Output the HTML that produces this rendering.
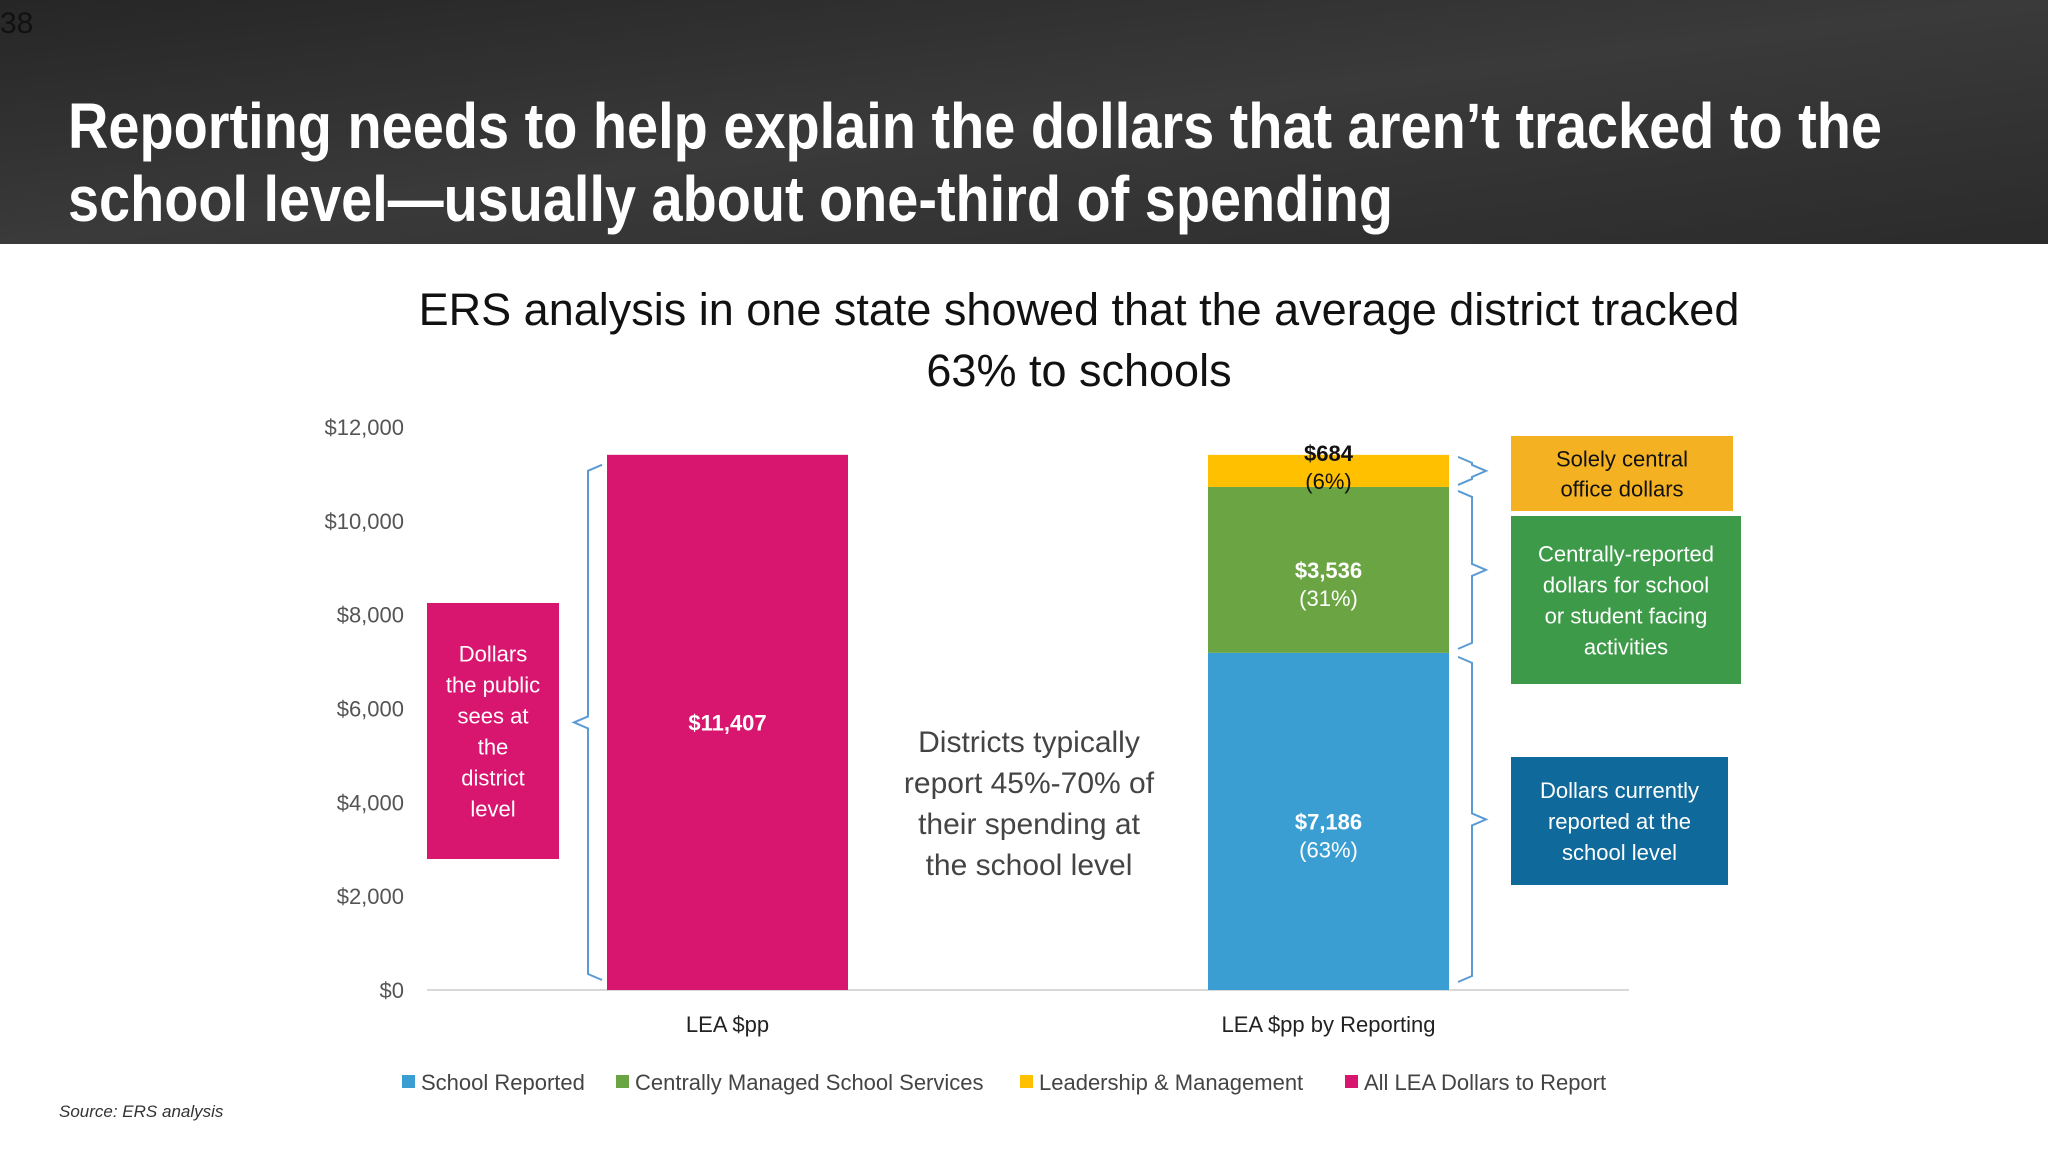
<!DOCTYPE html>
<html><head><meta charset="utf-8">
<style>
html,body{margin:0;padding:0;width:2048px;height:1152px;overflow:hidden;background:#fff;font-family:"Liberation Sans",sans-serif;}
svg{display:block}
</style></head>
<body>
<svg width="2048" height="1152" viewBox="0 0 2048 1152" xmlns="http://www.w3.org/2000/svg">
<defs>
<linearGradient id="hdr" x1="0" y1="0" x2="1" y2="1">
<stop offset="0" stop-color="#262626"/><stop offset="0.5" stop-color="#3a3a3a"/><stop offset="1" stop-color="#2b2b2b"/>
</linearGradient>
</defs>
<rect x="0" y="0" width="2048" height="244" fill="url(#hdr)"/>
<text x="0" y="33" font-size="30" fill="#111">38</text>
<g font-family="'Liberation Sans Narrow','Liberation Sans',sans-serif" font-weight="bold" font-size="64" fill="#fff">
<text x="68" y="148" textLength="1814" lengthAdjust="spacingAndGlyphs">Reporting needs to help explain the dollars that aren’t tracked to the</text>
<text x="68" y="221" textLength="1325" lengthAdjust="spacingAndGlyphs">school level—usually about one-third of spending</text>
</g>
<g font-size="45" fill="#111" text-anchor="middle">
<text x="1079" y="325">ERS analysis in one state showed that the average district tracked</text>
<text x="1079" y="386">63% to schools</text>
</g>
<g id="chart"></g>
<text x="59" y="1117" font-size="17" font-style="italic" fill="#333">Source: ERS analysis</text>
</svg>
<script>
const yTicks=[0,2000,4000,6000,8000,10000,12000];
const categories=["LEA $pp","LEA $pp by Reporting"];
const totalValues=[11407];
const schoolReported=[7186];
const centrallyManaged=[3536];
const leadership=[684];
const pctLabels=["(63%)","(31%)","(6%)"];
const seriesNames=["School Reported","Centrally Managed School Services","Leadership & Management","All LEA Dollars to Report"];
const colors=["#3B9ED2","#6BA543","#FFC000","#D8166F"];

const NS="http://www.w3.org/2000/svg";
const g=document.getElementById('chart');
const y0=990,yTop=427,yMax=12000;
function y(v){return y0-(v/yMax)*(y0-yTop);}
const barX=[607,1208],barW=241;
function mk(tag,attrs,parent){const e=document.createElementNS(NS,tag);for(const k in attrs)e.setAttribute(k,attrs[k]);(parent||g).appendChild(e);return e;}
function txt(x,yy,s,attrs){const e=mk('text',Object.assign({x:x,y:yy},attrs||{}));e.textContent=s;return e;}
function fmt(v){return '$'+v.toLocaleString('en-US');}

yTicks.forEach(t=>{
  const e=txt(404,y(t)+8,fmt(t),{'font-size':22,fill:'#555','text-anchor':'end'});
  
  
});
const ax=mk('line',{x1:427,x2:1629,y1:y0,y2:y0,stroke:'#d9d9d9','stroke-width':2});



const b1=mk('rect',{x:barX[0],y:y(totalValues[0]),width:barW,height:y0-y(totalValues[0]),fill:colors[3]});


const l1=txt(barX[0]+barW/2,y(totalValues[0]/2)+8,fmt(totalValues[0]),{'font-size':22,'font-weight':'bold',fill:'#fff','text-anchor':'middle'});



const stacks=[schoolReported[0],centrallyManaged[0],leadership[0]];
const segNames=['bar-school-reported','bar-centrally-managed','bar-leadership'];
let base=0;
stacks.forEach((v,i)=>{
  const r=mk('rect',{x:barX[1],y:y(base+v),width:barW,height:y(base)-y(base+v),fill:colors[i]});
  
  
  const cy=y(base+v/2);
  const dark=i===2;
  const c=dark?'#111':'#fff';
  const off=dark?-10:8;
  const a=txt(barX[1]+barW/2,cy+off,fmt(v),{'font-size':22,'font-weight':'bold',fill:c,'text-anchor':'middle'});
  
  
  const b=txt(barX[1]+barW/2,cy+off+28,pctLabels[i],{'font-size':22,fill:c,'text-anchor':'middle'});
  
  
  base+=v;
});

categories.forEach((c,i)=>{
  const e=txt(barX[i]+barW/2,1032,c,{'font-size':22,fill:'#222','text-anchor':'middle'});
  
  
});

function brace(x,ya,yb,dir,name){
  const m=(ya+yb)/2,w=14*dir;
  const d=`M${x+w},${ya} L${x},${ya+6} L${x},${m-6} L${x-w},${m} L${x},${m+6} L${x},${yb-6} L${x+w},${yb}`;
  const p=mk('path',{d:d,fill:'none',stroke:'#5b9bd5','stroke-width':2});
  
  
}
brace(588,y(totalValues[0])+10,y0-10,1,'left-brace');
brace(1472,y(11406)+2,y(schoolReported[0]+centrallyManaged[0])-2,-1,'brace-central-office');
brace(1472,y(schoolReported[0]+centrallyManaged[0])+4,y(schoolReported[0])-4,-1,'brace-centrally-reported');
brace(1472,y(schoolReported[0])+4,y0-8,-1,'brace-school-level');

function box(x,yy,w,h,fill,lines,tc,name,lh){
  const r=mk('rect',{x:x,y:yy,width:w,height:h,fill:fill});
  
  
  const start=yy+h/2-(lines.length-1)*lh/2+8;
  lines.forEach((s,i)=>{
    const t=txt(x+w/2,start+i*lh,s,{'font-size':22,fill:tc,'text-anchor':'middle'});
    
    
  });
}
box(427,603,132,256,'#D8166F',['Dollars','the public','sees at','the','district','level'],'#fff','public-dollars-box',31);
box(1511,436,222,75,'#F4B223',['Solely central','office dollars'],'#111','central-office-box',30);
box(1511,516,230,168,'#3D9A48',['Centrally-reported','dollars for school','or student facing','activities'],'#fff','centrally-reported-box',31);
box(1511,757,217,128,'#0F6A9B',['Dollars currently','reported at the','school level'],'#fff','school-level-box',31);

['Districts typically','report 45%-70% of','their spending at','the school level'].forEach((s,i)=>{
  const t=txt(1029,752+i*41,s,{'font-size':30,fill:'#444','text-anchor':'middle'});
  
  
});

const legX=[402,616,1020,1345];
seriesNames.forEach((n,i)=>{
  const r=mk('rect',{x:legX[i],y:1075,width:13,height:13,fill:colors[i]});
  
  
  const t=txt(legX[i]+19,1090,n,{'font-size':22,fill:'#444'});
  
  
});
</script>
</body></html>
